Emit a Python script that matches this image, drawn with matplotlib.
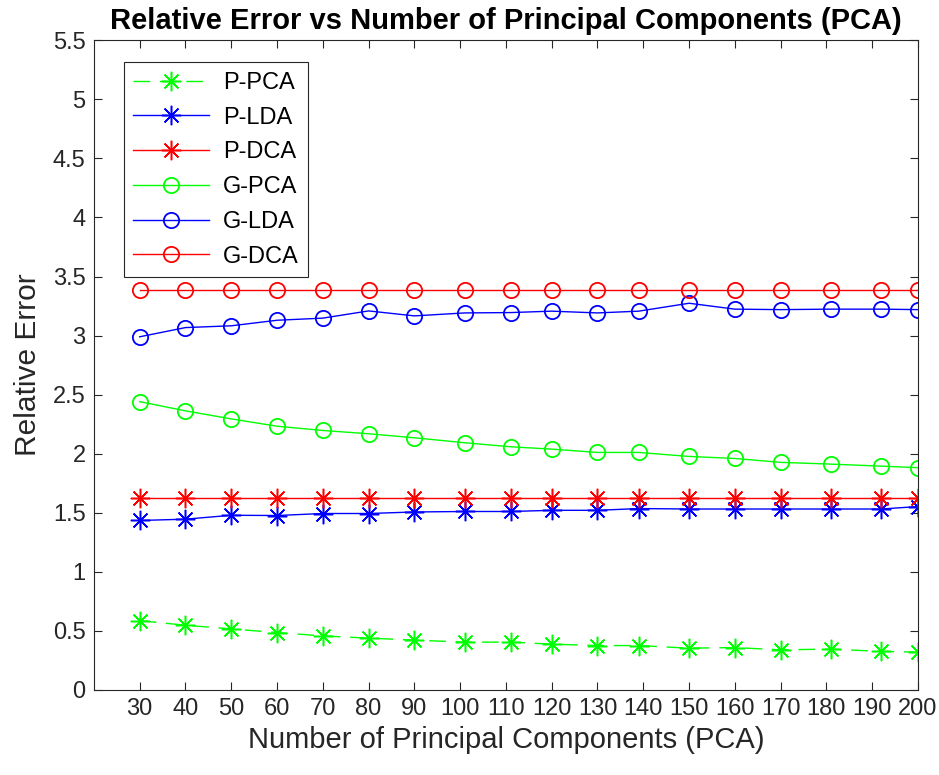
import numpy as np
import matplotlib
matplotlib.use('Agg')
import matplotlib.pyplot as plt
from matplotlib.ticker import FormatStrFormatter

# число главных компонент
n_comp = [30, 40, 50, 60, 70, 80, 90, 101, 111, 120, 130, 139, 150, 160, 170, 181, 192, 200]

# относительная ошибка для каждого метода
p_pca = [0.587, 0.548, 0.517, 0.486, 0.458, 0.439, 0.422, 0.405, 0.405, 0.388,
         0.376, 0.376, 0.354, 0.359, 0.340, 0.346, 0.326, 0.321]
p_lda = [1.435, 1.446, 1.479, 1.477, 1.494, 1.494, 1.507, 1.511, 1.511, 1.521,
         1.521, 1.536, 1.532, 1.532, 1.532, 1.532, 1.532, 1.553]
p_dca = [1.629] * 18
g_pca = [2.441, 2.363, 2.295, 2.233, 2.197, 2.169, 2.135, 2.093, 2.059, 2.039,
         2.011, 2.011, 1.977, 1.960, 1.927, 1.912, 1.895, 1.882]
g_lda = [2.990, 3.068, 3.083, 3.130, 3.148, 3.209, 3.167, 3.192, 3.195, 3.207,
         3.192, 3.207, 3.274, 3.224, 3.220, 3.224, 3.224, 3.220]
g_dca = [3.384] * 18

x_ticks = list(range(30, 201, 10))
y_ticks = [i * 0.5 for i in range(12)]

plt.rcParams['font.family'] = ['Liberation Sans', 'DejaVu Sans']

grey = '#262626'
star = (8, 2, 0)  # звёздочка как в MATLAB

fig = plt.figure(figsize=(9.39, 7.75), dpi=100)
ax = fig.add_axes([0.100, 0.1097, 0.8776, 0.8383])

ax.plot(n_comp, p_pca, color=(0, 1, 0), lw=1.0, dashes=(12, 7), marker=star, ms=14, mew=1.1, label='P-PCA')
ax.plot(n_comp, p_lda, color=(0, 0, 1), lw=1.0, marker=star, ms=14, mew=1.1, label='P-LDA')
ax.plot(n_comp, p_dca, color=(1, 0, 0), lw=1.0, marker=star, ms=14, mew=1.1, label='P-DCA')
ax.plot(n_comp, g_pca, color=(0, 1, 0), lw=1.0, marker='o', ms=11, mew=1.3, mfc='none', label='G-PCA')
ax.plot(n_comp, g_lda, color=(0, 0, 1), lw=1.0, marker='o', ms=11, mew=1.3, mfc='none', label='G-LDA')
ax.plot(n_comp, g_dca, color=(1, 0, 0), lw=1.0, marker='o', ms=11, mew=1.3, mfc='none', label='G-DCA')

ax.set_xlim(20, 200)
ax.set_ylim(0, 5.5)
ax.set_xticks(x_ticks)
ax.set_yticks(y_ticks)
ax.yaxis.set_major_formatter(FormatStrFormatter('%g'))

ax.tick_params(direction='in', length=6, width=0.8, color=grey, labelcolor=grey,
               labelsize=17, top=True, right=True, pad=6)
for s in ax.spines.values():
    s.set_color(grey)
    s.set_linewidth(0.8)

ax.set_title('Relative Error vs Number of Principal Components (PCA)',
             fontsize=21, fontweight='bold', pad=8)
ax.set_xlabel('Number of Principal Components (PCA)', fontsize=21, color=grey, labelpad=4)
ax.set_ylabel('Relative Error', fontsize=21.5, color=grey, labelpad=8)

leg = ax.legend(loc='upper left', bbox_to_anchor=(0.036, 0.966), borderaxespad=0,
                fontsize=17, fancybox=False, framealpha=1, edgecolor=grey,
                handlelength=3.2, handletextpad=0.6, labelspacing=0.54,
                borderpad=0.4, numpoints=1)
leg.get_frame().set_linewidth(0.8)

fig.savefig('out.png', dpi=100)
